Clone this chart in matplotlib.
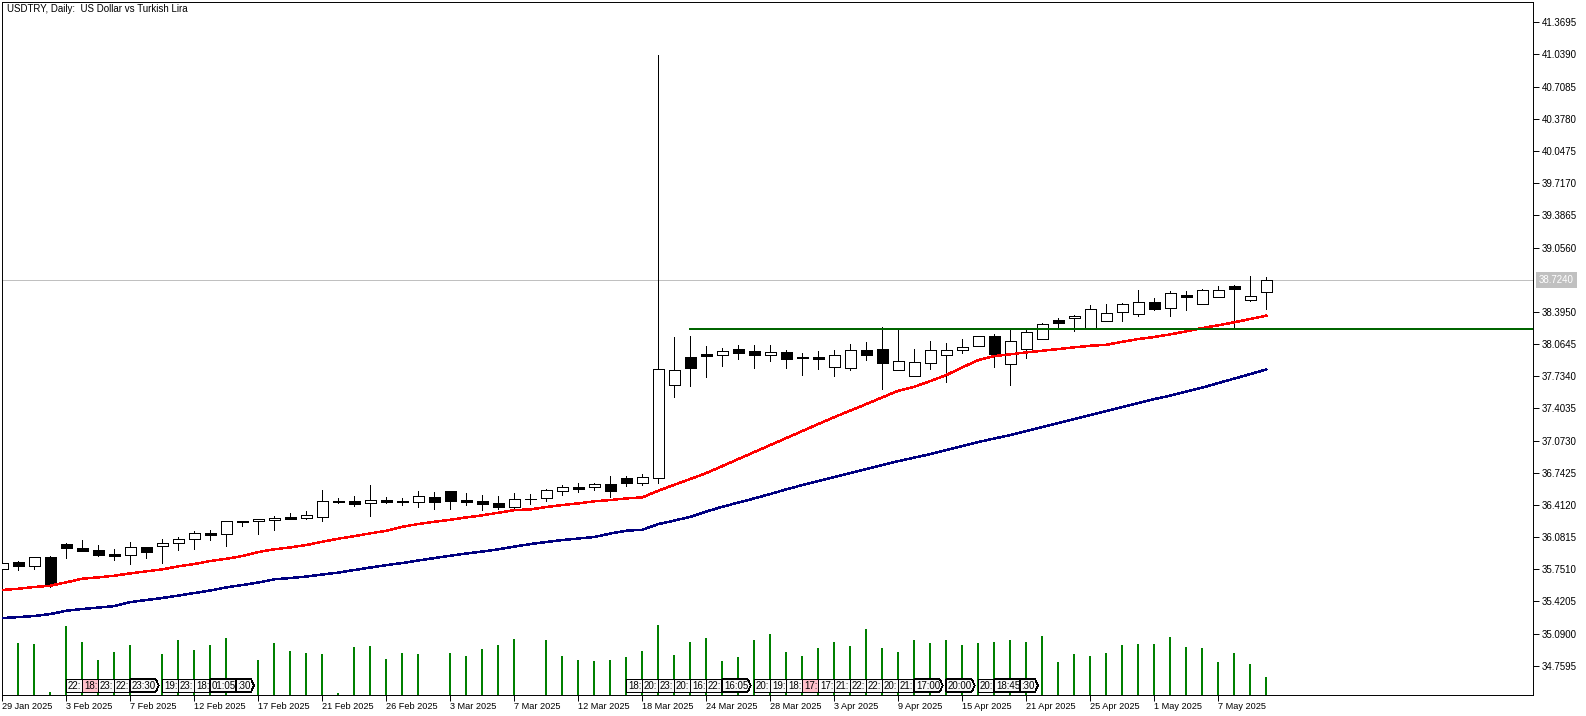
import matplotlib
matplotlib.use("Agg")
import matplotlib.pyplot as plt
from matplotlib.patches import Polygon
from matplotlib.transforms import blended_transform_factory

plt.rcParams['font.family'] = ['Liberation Sans', 'DejaVu Sans']

opens = [35.756, 35.825, 35.787, 35.877, 36.010, 35.969, 35.945, 35.907, 35.900, 35.979,
         35.993, 36.017, 36.058, 36.123, 36.110, 36.239, 36.243, 36.254, 36.284, 36.280,
         36.290, 36.445, 36.452, 36.428, 36.459, 36.445, 36.445, 36.490, 36.551, 36.462,
         36.449, 36.428, 36.393, 36.469, 36.479, 36.558, 36.596, 36.592, 36.623, 36.685,
         36.640, 36.691, 37.647, 37.928, 37.962, 37.955, 38.013, 37.993, 37.955, 37.982,
         37.924, 37.931, 37.831, 37.821, 38.003, 38.013, 37.801, 37.739, 37.873, 37.955,
         38.000, 38.041, 38.147, 37.856, 38.016, 38.113, 38.311, 38.328, 38.219, 38.298,
         38.391, 38.370, 38.493, 38.432, 38.568, 38.473, 38.545, 38.661, 38.520, 38.602]
highs = [35.825, 35.835, 35.880, 35.887, 36.017, 36.051, 36.000, 35.959, 36.031, 35.982,
         36.058, 36.079, 36.144, 36.154, 36.243, 36.243, 36.267, 36.295, 36.328, 36.349,
         36.565, 36.483, 36.503, 36.616, 36.490, 36.479, 36.554, 36.544, 36.551, 36.534,
         36.510, 36.500, 36.534, 36.521, 36.572, 36.613, 36.637, 36.634, 36.708, 36.705,
         36.729, 41.030, 38.133, 38.144, 38.044, 38.024, 38.054, 38.054, 38.054, 38.003,
         37.972, 37.993, 38.003, 38.065, 38.085, 38.239, 38.219, 38.013, 38.095, 38.075,
         38.116, 38.144, 38.167, 38.219, 38.211, 38.280, 38.332, 38.359, 38.463, 38.476,
         38.486, 38.620, 38.538, 38.606, 38.606, 38.627, 38.658, 38.671, 38.764, 38.750]
lows = [35.753, 35.746, 35.753, 35.569, 35.869, 35.938, 35.890, 35.846, 35.805, 35.866,
        35.818, 35.949, 35.959, 36.054, 35.990, 36.198, 36.116, 36.154, 36.267, 36.270,
        36.246, 36.431, 36.403, 36.301, 36.428, 36.411, 36.393, 36.370, 36.370, 36.414,
        36.359, 36.370, 36.366, 36.424, 36.452, 36.513, 36.544, 36.565, 36.496, 36.609,
        36.616, 36.634, 37.523, 37.636, 37.729, 37.839, 37.914, 37.821, 37.893, 37.821,
        37.746, 37.811, 37.736, 37.798, 37.900, 37.606, 37.801, 37.739, 37.808, 37.675,
        37.975, 38.041, 37.831, 37.644, 37.924, 38.113, 38.229, 38.201, 38.219, 38.298,
        38.304, 38.356, 38.414, 38.356, 38.414, 38.473, 38.545, 38.226, 38.510, 38.427]
closes = [35.818, 35.787, 35.874, 35.586, 35.969, 35.938, 35.897, 35.887, 35.976, 35.931,
          36.017, 36.058, 36.120, 36.106, 36.243, 36.243, 36.264, 36.274, 36.270, 36.305,
          36.449, 36.449, 36.424, 36.459, 36.441, 36.449, 36.500, 36.445, 36.455, 36.445,
          36.424, 36.393, 36.469, 36.472, 36.562, 36.592, 36.575, 36.623, 36.558, 36.640,
          36.695, 37.805, 37.795, 37.821, 37.944, 37.990, 37.972, 37.952, 37.979, 37.911,
          37.928, 37.911, 37.949, 38.000, 37.952, 37.869, 37.887, 37.877, 38.000, 38.000,
          38.037, 38.144, 37.962, 38.092, 38.185, 38.267, 38.283, 38.349, 38.421, 38.380,
          38.473, 38.493, 38.428, 38.586, 38.551, 38.617, 38.617, 38.633, 38.555, 38.724]

ma_red = [35.538, 35.551, 35.569, 35.582, 35.617, 35.654, 35.668, 35.685, 35.709, 35.730,
          35.750, 35.781, 35.805, 35.836, 35.859, 35.887, 35.928, 35.956, 35.976, 36.000,
          36.034, 36.065, 36.092, 36.120, 36.147, 36.188, 36.216, 36.239, 36.260, 36.284,
          36.305, 36.332, 36.359, 36.366, 36.390, 36.411, 36.428, 36.449, 36.462, 36.479,
          36.490, 36.558, 36.619, 36.678, 36.739, 36.811, 36.883, 36.955, 37.027, 37.099,
          37.171, 37.243, 37.314, 37.381, 37.448, 37.517, 37.585, 37.626, 37.684, 37.746,
          37.825, 37.900, 37.941, 37.959, 37.979, 37.996, 38.013, 38.031, 38.047, 38.057,
          38.088, 38.116, 38.137, 38.164, 38.195, 38.229, 38.257, 38.288, 38.322, 38.356]
ma_blue = [35.250, 35.260, 35.271, 35.291, 35.325, 35.343, 35.358, 35.373, 35.414, 35.435,
           35.456, 35.481, 35.507, 35.533, 35.565, 35.589, 35.615, 35.648, 35.661, 35.676,
           35.697, 35.717, 35.743, 35.769, 35.794, 35.815, 35.841, 35.866, 35.890, 35.913,
           35.933, 35.956, 35.984, 36.010, 36.031, 36.051, 36.067, 36.082, 36.118, 36.147,
           36.157, 36.215, 36.251, 36.290, 36.344, 36.393, 36.436, 36.479, 36.524, 36.572,
           36.616, 36.657, 36.698, 36.739, 36.780, 36.821, 36.862, 36.898, 36.934, 36.975,
           37.017, 37.058, 37.094, 37.130, 37.171, 37.212, 37.253, 37.294, 37.335, 37.376,
           37.417, 37.458, 37.499, 37.535, 37.576, 37.617, 37.664, 37.710, 37.756, 37.804]
volumes = [0, 52, 51, 3, 69, 53, 35, 43, 50, 0,
           41, 55, 45, 50, 57, 0, 35, 52, 44, 42,
           41, 2, 48, 49, 36, 42, 41, 0, 42, 39,
           46, 50, 56, 0, 55, 39, 35, 34, 35, 38,
           44, 70, 40, 53, 57, 34, 38, 55, 61, 43,
           39, 47, 53, 49, 66, 47, 43, 55, 52, 55,
           50, 52, 53, 55, 53, 59, 33, 41, 39, 42,
           50, 51, 51, 58, 48, 47, 33, 42, 31, 18]

date_bars = [0, 4, 8, 12, 16, 20, 24, 28, 32, 36, 40, 44, 48, 52, 56, 60, 64, 68, 72, 76]
date_labels = ['29 Jan 2025', '3 Feb 2025', '7 Feb 2025', '12 Feb 2025', '17 Feb 2025',
               '21 Feb 2025', '26 Feb 2025', '3 Mar 2025', '7 Mar 2025', '12 Mar 2025',
               '18 Mar 2025', '24 Mar 2025', '28 Mar 2025', '3 Apr 2025', '9 Apr 2025',
               '15 Apr 2025', '21 Apr 2025', '25 Apr 2025', '1 May 2025', '7 May 2025']
price_ticks = [41.3695, 41.0390, 40.7085, 40.3780, 40.0475, 39.7170, 39.3865, 39.0560,
               38.3950, 38.0645, 37.7340, 37.4035, 37.0730, 36.7425, 36.4120, 36.0815,
               35.7510, 35.4205, 35.0900, 34.7595]
last_price = 38.7240
level_price = 38.219
level_start = 43

event_bars = [4, 5, 6, 7, 8, 10, 11, 12, 13, 14.6,
              39, 40, 41, 42, 43, 44, 45, 47, 48, 49, 50, 51, 52, 53, 54, 55, 56,
              57, 59, 61, 62, 63.6]
event_texts = ['22:', '18:', '23:', '22:', '23:30', '19:', '23:', '18:', '01:05', ':30',
               '18:', '20:', '23:', '20:', '16:', '22:', '16:05', '20:', '19:', '18:', '17:', '17:',
               '21:', '22:', '22:', '20:', '21:', '17:00', '20:00', '20:', '18:45', ':30']
event_pink = ['18:@5', '17:@50']

W = 1586
H = 716
fig = plt.figure(figsize=(W / 100, H / 100), dpi=100, facecolor='white')
ax = fig.add_axes([2.3 / W, (H - 695.3) / H, (1533 - 2.3) / W, (695.3 - 2.3) / H])
ax.set_xlim(0, (1533 - 2.3) / 16)
ax.set_ylim(34.4565, 41.575)

for i in range(len(opens)):
    ax.vlines(i, lows[i], highs[i], color='black', lw=0.6, antialiased=False, zorder=2)
    up = closes[i] >= opens[i]
    ax.bar(i, abs(closes[i] - opens[i]), bottom=min(opens[i], closes[i]), width=0.66,
           facecolor='white' if up else 'black', edgecolor='black', linewidth=0.6,
           antialiased=False, zorder=3)

xs = list(range(len(opens)))
ax.axhline(last_price, color='#c0c0c0', lw=0.6, antialiased=False, zorder=1)
ax.plot(xs, ma_blue, color='#000080', lw=1.05, antialiased=False, zorder=4)
ax.plot(xs, ma_red, color='#ff0000', lw=1.05, antialiased=False, zorder=4)
ax.plot([level_start, ax.get_xlim()[1]], [level_price, level_price], color='#006400',
        lw=1.4, antialiased=False, zorder=5)

ax.text(1.004, last_price, '%.4f' % last_price, color='white', fontsize=7,
        va='center', ha='left', transform=blended_transform_factory(ax.transAxes, ax.transData),
        bbox=dict(facecolor='#c0c0c0', edgecolor='none', pad=2), clip_on=False)
fig.text(7 / W, 1 - 9.5 / H, 'USDTRY, Daily:  US Dollar vs Turkish Lira', fontsize=7, va='center')

# volumes and event flags sit on their own scale over the candles
ax2 = ax.twinx()
ax2.set_ylim(0, 693)
ax2.set_axis_off()
ax2.vlines(xs, 0, volumes, color='#008000', lw=1.4, antialiased=False)

ax.yaxis.tick_right()
ax.set_yticks(price_ticks)
ax.set_yticklabels(['%.4f' % p for p in price_ticks])
ax.set_xticks(date_bars)
ax.set_xticklabels(date_labels, ha='left')
ax.tick_params(axis='y', length=4, width=0.7, pad=2, labelsize=7)
ax.tick_params(axis='x', length=4, width=0.7, pad=1, labelsize=6.6)
for s in ax.spines.values():
    s.set_linewidth(0.7)

for k in range(len(event_bars)):
    x = event_bars[k]
    t = event_texts[k]
    w = 1.0
    arrow = False
    if len(t) > 3:
        w = 1.6
        arrow = True
    if t == ':30':
        w = 0.95
        arrow = True
    pts = [(x, 3.6), (x + w, 3.6)]
    if arrow:
        pts.append((x + w + 0.18, 9.8))
    pts += [(x + w, 16), (x, 16)]
    pink = (t + '@' + str(x)) in event_pink
    ax2.add_patch(Polygon(pts, closed=True, facecolor='#ffc0cb' if pink else '#f8f8f8',
                          edgecolor='black', linewidth=0.5, antialiased=False, zorder=6))
    ax2.text(x + 0.1, 9.6, t, fontsize=7, va='center', ha='left', zorder=7)

fig.savefig('out.png', dpi=100, facecolor='white')
